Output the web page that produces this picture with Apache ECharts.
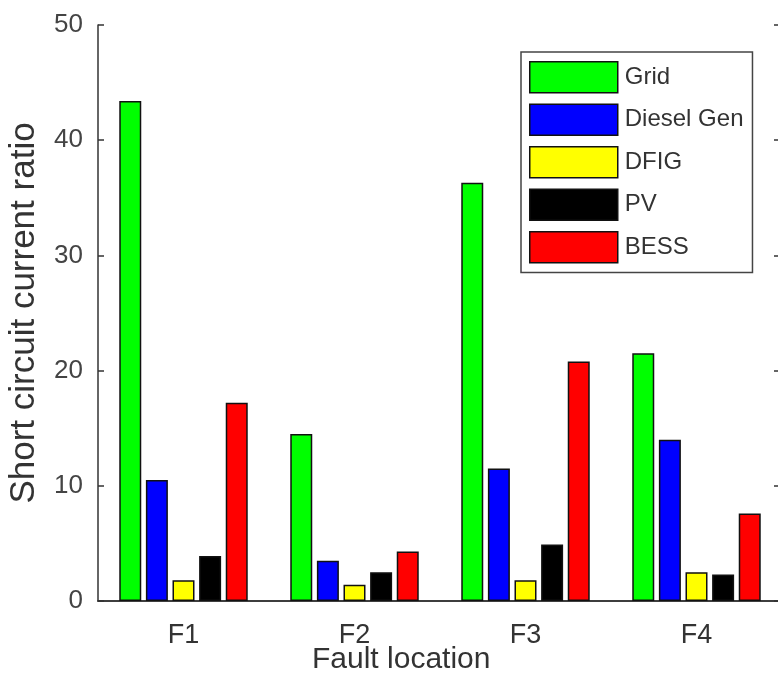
<!DOCTYPE html>
<html>
<head>
<meta charset="utf-8">
<script src="https://cdn.jsdelivr.net/npm/echarts@6/dist/echarts.min.js"></script>
<style>
  html, body { margin: 0; padding: 0; background: #fff; }
  #chart { width: 778px; height: 681px; }
</style>
</head>
<body>
<div id="chart"></div>
<script>
// 数据
const categories = ['F1', 'F2', 'F3', 'F4']
const gridVals = [43.4, 14.5, 36.3, 21.5]
const dieselVals = [10.5, 3.5, 11.5, 14.0]
const dfigVals = [1.8, 1.4, 1.8, 2.5]
const pvVals = [3.9, 2.5, 4.9, 2.3]
const bessVals = [17.2, 4.3, 20.8, 7.6]
const yTicks = [0, 10, 20, 30, 40, 50]

const font = 'Liberation Sans, Arial, sans-serif'
const axisColor = '#333'

const chart = echarts.init(document.getElementById('chart'))

function barSeries(name, data, color) {
  return {
    name: name,
    type: 'bar',
    data: data,
    barWidth: 22,
    barGap: '21%',
    itemStyle: { color: color, borderColor: '#111', borderWidth: 1.5 }
  }
}

const option = {
  animation: false,
  textStyle: { fontFamily: font },
  grid: {
    left: 98,
    top: 25,
    width: 684,
    height: 576,
    outerBoundsMode: 'none',
    containLabel: false,
    show: false
  },
  title: {
    text: 'Fault location',
    left: 312,
    top: 645,
    padding: 0,
    textStyle: { fontFamily: font, fontSize: 30, fontWeight: 'normal', color: '#333' }
  },
  legend: {
    orient: 'vertical',
    left: 521,
    top: 52,
    icon: 'rect',
    itemWidth: 88,
    itemHeight: 31,
    itemGap: 10,
    padding: [9, 9, 9, 8],
    borderColor: '#444',
    borderWidth: 1.5,
    backgroundColor: '#fff',
    itemStyle: { borderColor: '#111', borderWidth: 1.5 },
    textStyle: { fontFamily: font, fontSize: 24, color: '#333', padding: [0, 0, 0, 2] },
    data: ['Grid', 'Diesel Gen', 'DFIG', 'PV', 'BESS']
  },
  xAxis: [
    {
      type: 'category',
      data: categories,
      axisLine: { lineStyle: { color: axisColor, width: 1.5 } },
      axisTick: { show: false },
      axisLabel: { fontSize: 27, color: '#333', margin: 21 }
    },
    {
      type: 'category',
      position: 'top',
      data: categories,
      axisLine: { show: true, lineStyle: { color: axisColor, width: 1.5 } },
      axisTick: { show: false },
      axisLabel: { show: false }
    }
  ],
  yAxis: [
    {
      type: 'value',
      min: yTicks[0],
      max: yTicks[yTicks.length - 1],
      interval: 10,
      name: 'Short circuit current ratio',
      nameLocation: 'middle',
      nameGap: 56,
      nameTextStyle: { fontSize: 35, color: '#333' },
      axisLine: { show: true, lineStyle: { color: axisColor, width: 1.5 } },
      axisTick: { show: true, inside: true, length: 6, lineStyle: { color: axisColor, width: 1.5 } },
      axisLabel: { fontSize: 26, color: '#444', margin: 15 },
      splitLine: { show: false }
    },
    {
      type: 'value',
      position: 'right',
      min: yTicks[0],
      max: yTicks[yTicks.length - 1],
      interval: 10,
      axisLine: { show: false },
      axisTick: { show: true, inside: true, length: 8, lineStyle: { color: axisColor, width: 1.5 } },
      axisLabel: { show: false },
      splitLine: { show: false }
    }
  ],
  series: [
    barSeries('Grid', gridVals, '#00ff00'),
    barSeries('Diesel Gen', dieselVals, '#0000ff'),
    barSeries('DFIG', dfigVals, '#ffff00'),
    barSeries('PV', pvVals, '#000000'),
    barSeries('BESS', bessVals, '#ff0000')
  ]
}

chart.setOption(option)
</script>
</body>
</html>
